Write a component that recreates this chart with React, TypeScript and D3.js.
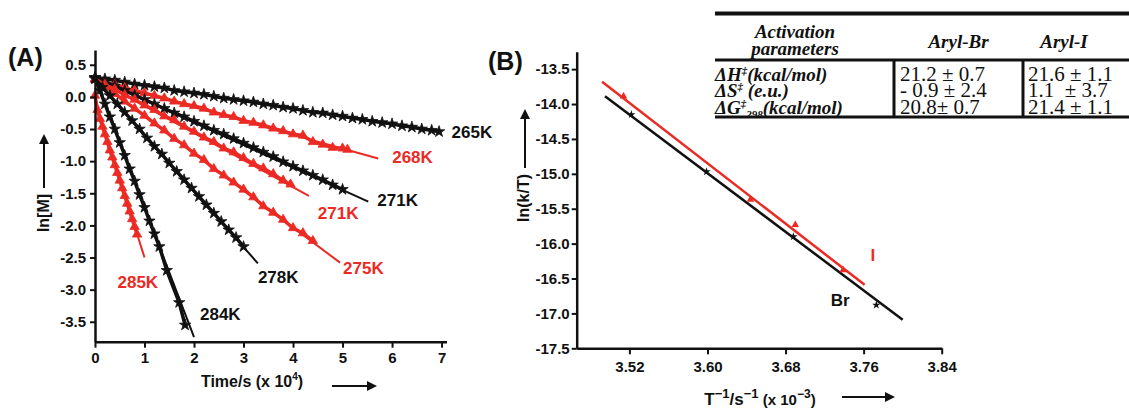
import React, { useEffect, useRef } from 'react'
import * as d3 from 'd3'

// ---------- panel A : ln[M] vs time (x 10^4 s) ----------
const s265K: [number, number][] = [
  [0, 0.3], [0.2, 0.28], [0.4, 0.26], [0.6, 0.23], [0.8, 0.2], [1.0, 0.18], [1.2, 0.16], [1.4, 0.14],
  [1.6, 0.1], [1.8, 0.08], [2.0, 0.06], [2.2, 0.04], [2.4, 0.01], [2.6, -0.02], [2.8, -0.04], [3.0, -0.06],
  [3.2, -0.08], [3.4, -0.11], [3.6, -0.13], [3.8, -0.16], [4.0, -0.18], [4.2, -0.21], [4.4, -0.24], [4.6, -0.25],
  [4.8, -0.28], [5.0, -0.3], [5.2, -0.33], [5.4, -0.35], [5.6, -0.38], [5.8, -0.4], [6.0, -0.42], [6.2, -0.45],
  [6.4, -0.47], [6.6, -0.5], [6.8, -0.52], [6.95, -0.54]
]
const s268K: [number, number][] = [
  [0, 0.27], [0.2, 0.22], [0.4, 0.19], [0.6, 0.14], [0.8, 0.1], [1.0, 0.06], [1.2, 0.02], [1.4, -0.02],
  [1.6, -0.07], [1.8, -0.11], [2.0, -0.14], [2.2, -0.18], [2.4, -0.24], [2.6, -0.28], [2.8, -0.31], [3.0, -0.37],
  [3.2, -0.4], [3.4, -0.44], [3.6, -0.49], [3.8, -0.53], [4.0, -0.58], [4.2, -0.6], [4.4, -0.7], [4.6, -0.74],
  [4.8, -0.79], [5.0, -0.8], [5.1, -0.82]
]
const s271Kb: [number, number][] = [
  [0, 0.3], [0.2, 0.23], [0.4, 0.17], [0.6, 0.1], [0.8, 0.03], [1.0, -0.04], [1.2, -0.11], [1.4, -0.18],
  [1.6, -0.25], [1.8, -0.31], [2.0, -0.38], [2.2, -0.45], [2.4, -0.52], [2.6, -0.58], [2.8, -0.65], [3.0, -0.72],
  [3.2, -0.79], [3.4, -0.86], [3.6, -0.93], [3.8, -1.01], [4.0, -1.08], [4.2, -1.15], [4.4, -1.22], [4.6, -1.29],
  [4.8, -1.37], [5.0, -1.44]
]
const s271Kr: [number, number][] = [
  [0, 0.28], [0.2, 0.19], [0.4, 0.12], [0.6, 0.03], [0.8, -0.04], [1.0, -0.13], [1.2, -0.2], [1.4, -0.3],
  [1.6, -0.36], [1.8, -0.46], [2.0, -0.54], [2.2, -0.63], [2.4, -0.7], [2.6, -0.8], [2.8, -0.86], [3.0, -0.95],
  [3.2, -1.04], [3.4, -1.11], [3.6, -1.2], [3.8, -1.3], [3.95, -1.36]
]
const s275K: [number, number][] = [
  [0, 0.28], [0.2, 0.17], [0.4, 0.05], [0.6, -0.07], [0.8, -0.18], [1.0, -0.29], [1.2, -0.41], [1.4, -0.52],
  [1.6, -0.65], [1.8, -0.75], [2.0, -0.88], [2.2, -0.98], [2.4, -1.12], [2.6, -1.22], [2.8, -1.33], [3.0, -1.44],
  [3.2, -1.56], [3.4, -1.7], [3.6, -1.8], [3.8, -1.91], [4.0, -2.04], [4.2, -2.12], [4.4, -2.24]
]
const s278K: [number, number][] = [
  [0, 0.28], [0.15, 0.15], [0.3, 0.02], [0.45, -0.11], [0.6, -0.24], [0.75, -0.37], [0.9, -0.5], [1.05, -0.64],
  [1.2, -0.77], [1.35, -0.89], [1.5, -1.03], [1.65, -1.16], [1.8, -1.29], [1.95, -1.42], [2.1, -1.55], [2.25, -1.68],
  [2.4, -1.81], [2.55, -1.94], [2.7, -2.07], [2.85, -2.19], [3.0, -2.33]
]
const s284K: [number, number][] = [
  [0, 0.3], [0.1, 0.1], [0.2, -0.11], [0.3, -0.31], [0.4, -0.5], [0.5, -0.71], [0.6, -0.91], [0.7, -1.12],
  [0.8, -1.31], [0.9, -1.52], [1.0, -1.72], [1.1, -1.93], [1.2, -2.13], [1.3, -2.33], [1.45, -2.7], [1.7, -3.2],
  [1.82, -3.55]
]
const s285K: [number, number][] = [
  [0, 0.02], [0.05, -0.2], [0.1, -0.34], [0.15, -0.46], [0.2, -0.58], [0.25, -0.7], [0.3, -0.83], [0.35, -0.94],
  [0.4, -1.06], [0.45, -1.18], [0.5, -1.3], [0.55, -1.42], [0.6, -1.54], [0.65, -1.66], [0.7, -1.78], [0.75, -1.9],
  [0.8, -2.02], [0.85, -2.14]
]

// linear fits (start, end) for each run
const fit265K: [number, number][] = [[0, 0.3], [7.0, -0.55]]
const fit268K: [number, number][] = [[0, 0.27], [5.72, -0.96]]
const fit271Kb: [number, number][] = [[0, 0.3], [5.52, -1.63]]
const fit271Kr: [number, number][] = [[0, 0.28], [4.32, -1.54]]
const fit275K: [number, number][] = [[0, 0.28], [4.95, -2.58]]
const fit278K: [number, number][] = [[0, 0.28], [3.29, -2.59]]
const fit284K: [number, number][] = [[0, 0.3], [2.0, -3.74]]
const fit285K: [number, number][] = [[0, -0.06], [1.0, -2.5]]

const xTicksA = [0, 1, 2, 3, 4, 5, 6, 7]
const yTicksA = [0.5, 0, -0.5, -1, -1.5, -2, -2.5, -3, -3.5]

// ---------- panel B : Eyring plot ----------
const brInvT = [3.522, 3.599, 3.688, 3.773]
const brLnKT = [-14.15, -14.97, -15.9, -16.88]
const iInvT = [3.514, 3.644, 3.69, 3.739]
const iLnKT = [-13.89, -15.37, -15.73, -16.38]
const fitBr: [number, number][] = [[3.495, -13.89], [3.8, -17.09]]
const fitI: [number, number][] = [[3.492, -13.68], [3.761, -16.59]]

const xTicksB = [3.52, 3.6, 3.68, 3.76, 3.84]
const yTicksB = [-13.5, -14, -14.5, -15, -15.5, -16, -16.5, -17, -17.5]

// ---------- table ----------
const tableHeader = ['Aryl-Br', 'Aryl-I']
const rowSymbols = ['H', 'S', 'G']
const rowUnits = ['(kcal/mol)', ' (e.u.)', '(kcal/mol)']
const arylBr = ['21.2 \u00b1 0.7', '- 0.9 \u00b1 2.4', '20.8\u00b1 0.7']
const arylI = ['21.6 \u00b1 1.1', '1.1  \u00b1 3.7', '21.4 \u00b1 1.1']

const RED = '#ec2a24'
const BLACK = '#111'
const SANS = 'Arial, "Liberation Sans", sans-serif'
const SERIF = '"Times New Roman", "Liberation Serif", serif'

const seriesA = [
  { name: '265K', color: BLACK, star: true, pts: s265K, fit: fit265K },
  { name: '268K', color: RED, star: false, pts: s268K, fit: fit268K },
  { name: '271K', color: BLACK, star: true, pts: s271Kb, fit: fit271Kb },
  { name: '271K', color: RED, star: false, pts: s271Kr, fit: fit271Kr },
  { name: '275K', color: RED, star: false, pts: s275K, fit: fit275K },
  { name: '278K', color: BLACK, star: true, pts: s278K, fit: fit278K },
  { name: '284K', color: BLACK, star: true, pts: s284K, fit: fit284K },
  { name: '285K', color: RED, star: false, pts: s285K, fit: fit285K }
]
// label offsets from the end of each fit line (px)
const labelOffsetsA = [[10, 1], [14, 0], [9, 0], [9, 19], [3, 7], [0, 15], [6, -22], [-27, 26]]

const xA = d3.scaleLinear().domain([0, 7.1]).range([95, 446.5])
const yA = d3.scaleLinear().domain([-3.81, 0.73]).range([341.7, 50])
const xB = d3.scaleLinear().domain([3.466, 3.84]).range([576.7, 941.7])
const yB = d3.scaleLinear().domain([-17.5, -13.25]).range([348.3, 51.7])

const starPath = d3.symbol().type(d3.symbolStar).size(40)()
const triPath = d3.symbol().type(d3.symbolTriangle).size(38)()
const starSmall = d3.symbol().type(d3.symbolStar).size(22)()
const triSmall = d3.symbol().type(d3.symbolTriangle).size(24)()

const Arrow = ({ x1, y1, x2, y2 }: { x1: number; y1: number; x2: number; y2: number }) => (
  <line x1={x1} y1={y1} x2={x2} y2={y2} stroke={BLACK} strokeWidth={2} markerEnd="url(#head)" />
)

export default function App() {
  const ref = useRef<SVGSVGElement>(null)

  useEffect(() => {
    const svg = d3.select(ref.current)
    const style = (g: any) => {
      g.attr('font-family', SANS).attr('font-size', 15)
      g.selectAll('text').attr('font-weight', 'bold').attr('fill', BLACK)
      g.select('.domain').attr('stroke', BLACK).attr('stroke-width', 2.5)
      g.selectAll('.tick line').attr('stroke', BLACK).attr('stroke-width', 2)
    }
    svg.select<SVGGElement>('.xA')
      .attr('transform', `translate(0,${yA.range()[0]})`)
      .call(d3.axisBottom(xA).tickValues(xTicksA).tickFormat((d: any) => String(d)).tickSize(6).tickSizeOuter(0).tickPadding(5))
      .call(style)
    svg.select<SVGGElement>('.yA')
      .attr('transform', `translate(${xA.range()[0]},0)`)
      .call(d3.axisLeft(yA).tickValues(yTicksA).tickFormat((d: any) => (+d).toFixed(1)).tickSize(5).tickSizeOuter(0).tickPadding(4))
      .call(style)
    svg.select<SVGGElement>('.xB')
      .attr('transform', `translate(0,${yB.range()[0]})`)
      .call(d3.axisBottom(xB).tickValues(xTicksB).tickFormat((d: any) => (+d).toFixed(2)).tickSize(6).tickSizeOuter(0).tickPadding(7))
      .call(style)
    svg.select<SVGGElement>('.yB')
      .attr('transform', `translate(${xB.range()[0]},0)`)
      .call(d3.axisLeft(yB).tickValues(yTicksB).tickFormat((d: any) => (+d).toFixed(1)).tickSize(5).tickSizeOuter(0).tickPadding(2))
      .call(style)
  }, [])

  const lineA = d3.line<[number, number]>().x(d => xA(d[0])).y(d => yA(d[1]))
  const lineB = d3.line<[number, number]>().x(d => xB(d[0])).y(d => yB(d[1]))

  // table geometry
  const tL = 715, tR = 1129, c1 = 894, c2 = 1023

  return (
    <svg ref={ref} width={1129} height={411} style={{ position: 'absolute', left: 0, top: 0, background: '#fff' }}>
      <defs>
        <marker id="head" viewBox="0 0 10 10" refX="8" refY="5" markerWidth="5" markerHeight="5" orient="auto">
          <path d="M0,0 L10,5 L0,10 z" fill={BLACK} />
        </marker>
      </defs>

      {/* ---------- panel A ---------- */}
      <text x={8} y={66} fontFamily={SANS} fontWeight="bold" fontSize={25} fill={BLACK}>(A)</text>
      {seriesA.map((s, i) => (
        <g key={'sa' + i}>
          <path d={lineA(s.fit) || ''} fill="none" stroke={s.color} strokeWidth={2} />
          <path d={lineA(s.pts) || ''} fill="none" stroke={s.color} strokeWidth={3.5} />
          {s.pts.map((p, j) => (
            <path key={j} d={(s.star ? starPath : triPath) || ''} fill={s.color} stroke={s.color} strokeWidth={0.8}
              transform={`translate(${xA(p[0])},${yA(p[1])})`} />
          ))}
          <text x={xA(s.fit[1][0]) + labelOffsetsA[i][0]} y={yA(s.fit[1][1]) + labelOffsetsA[i][1]}
            dominantBaseline="middle" fontFamily={SANS} fontWeight="bold" fontSize={17} fill={s.color}>{s.name}</text>
        </g>
      ))}
      <g className="xA" />
      <g className="yA" />
      <text x={252} y={387} textAnchor="middle" fontFamily={SANS} fontWeight="bold" fontSize={16} fill={BLACK}>
        Time/s (x 10<tspan dy={-7} fontSize={10}>4</tspan><tspan dy={7}>)</tspan>
      </text>
      <Arrow x1={332} y1={386} x2={375} y2={386} />
      <text transform="translate(49,213) rotate(-90)" textAnchor="middle" fontFamily={SANS} fontWeight="bold" fontSize={16} fill={BLACK}>ln[M]</text>
      <Arrow x1={44} y1={188} x2={44} y2={136} />

      {/* ---------- panel B ---------- */}
      <text x={488} y={70} fontFamily={SANS} fontWeight="bold" fontSize={25} fill={BLACK}>(B)</text>
      <path d={lineB(fitBr) || ''} fill="none" stroke={BLACK} strokeWidth={2.5} />
      <path d={lineB(fitI) || ''} fill="none" stroke={RED} strokeWidth={2.5} />
      {brInvT.map((v, j) => (
        <path key={'br' + j} d={starSmall || ''} fill={BLACK} transform={`translate(${xB(v)},${yB(brLnKT[j])})`} />
      ))}
      {iInvT.map((v, j) => (
        <path key={'i' + j} d={triSmall || ''} fill={RED} transform={`translate(${xB(v)},${yB(iLnKT[j])})`} />
      ))}
      <text x={xB(fitI[1][0]) + 6} y={yB(fitI[1][1]) - 28} dominantBaseline="middle" fontFamily={SANS} fontWeight="bold" fontSize={17} fill={RED}>I</text>
      <text x={xB(fitBr[1][0]) - 53} y={yB(fitBr[1][1]) - 18} textAnchor="end" dominantBaseline="middle" fontFamily={SANS} fontWeight="bold" fontSize={17} fill={BLACK}>Br</text>
      <g className="xB" />
      <g className="yB" />
      <text x={760} y={405} textAnchor="middle" fontFamily={SANS} fontWeight="bold" fontSize={17} fill={BLACK}>
        T<tspan dy={-7} fontSize={13}>{'\u2212'}1</tspan><tspan dy={7}>/s</tspan><tspan dy={-7} fontSize={13}>{'\u2212'}1</tspan>
        <tspan dy={7} fontSize={15}> (x 10</tspan><tspan dy={-7} fontSize={12}>{'\u2212'}3</tspan><tspan dy={7} fontSize={15}>)</tspan>
      </text>
      <Arrow x1={842} y1={397} x2={893} y2={397} />
      <text transform="translate(529,198) rotate(-90)" textAnchor="middle" fontFamily={SANS} fontWeight="bold" fontSize={16} fill={BLACK}>ln(k/T)</text>
      <Arrow x1={525} y1={168} x2={525} y2={111} />

      {/* ---------- activation parameter table ---------- */}
      <g fontFamily={SERIF} fill={BLACK}>
        <line x1={tL} x2={tR} y1={13.5} y2={13.5} stroke={BLACK} strokeWidth={4} />
        <text x={795} y={38} textAnchor="middle" fontWeight="bold" fontStyle="italic" fontSize={19}>Activation</text>
        <text x={795} y={55} textAnchor="middle" fontWeight="bold" fontStyle="italic" fontSize={19}>parameters</text>
        <text x={(c1 + c2) / 2} y={48} textAnchor="middle" fontWeight="bold" fontStyle="italic" fontSize={19}>{tableHeader[0]}</text>
        <text x={(c2 + tR) / 2 - 12} y={48} textAnchor="middle" fontWeight="bold" fontStyle="italic" fontSize={19}>{tableHeader[1]}</text>
        <line x1={tL} x2={tR} y1={60} y2={60} stroke={BLACK} strokeWidth={3} />
        {rowSymbols.map((sym, k) => {
          const y = 81 + k * 16.4
          return (
            <g key={'row' + k}>
              <text x={tL} y={y} fontWeight="bold" fontStyle="italic" fontSize={19}>
                {'\u0394'}{sym}<tspan dy={-7} fontSize={11}>{'\u2021'}</tspan>
                {sym === 'G' ? <tspan dy={11} fontSize={11}>298</tspan> : null}
                <tspan dy={sym === 'G' ? -4 : 7}>{rowUnits[k]}</tspan>
              </text>
              <text x={900} y={y} fontSize={21}>{arylBr[k]}</text>
              <text x={1028} y={y} fontSize={21} style={{ whiteSpace: 'pre' }}>{arylI[k]}</text>
            </g>
          )
        })}
        <line x1={tL} x2={tR} y1={117} y2={117} stroke={BLACK} strokeWidth={3} />
        <line x1={c1} x2={c1} y1={60} y2={117} stroke={BLACK} strokeWidth={3} />
        <line x1={c2} x2={c2} y1={60} y2={117} stroke={BLACK} strokeWidth={3} />
      </g>
    </svg>
  )
}
